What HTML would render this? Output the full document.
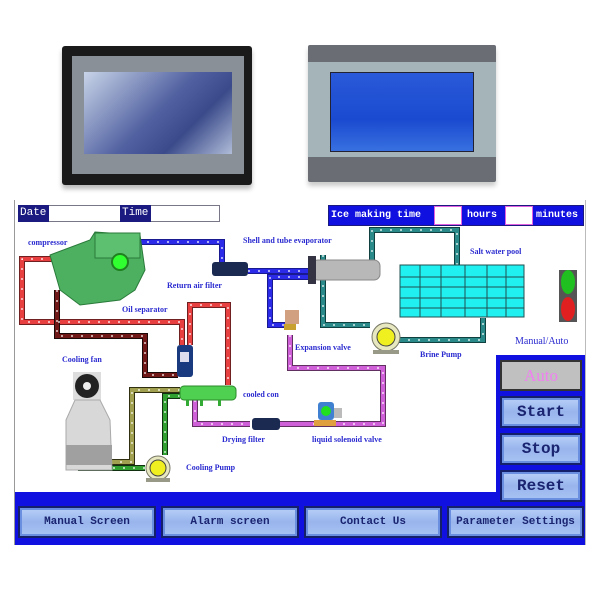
<!DOCTYPE html>
<html><head><meta charset="utf-8"><style>
body{margin:0;width:600px;height:600px;background:#fff;position:relative;overflow:hidden;font-family:"Liberation Mono",monospace}
.a{position:absolute}
.lbl{position:absolute;font-family:"Liberation Serif",serif;font-weight:bold;font-size:8px;color:#2a2ad0;white-space:nowrap}
.btn{position:absolute;background:linear-gradient(180deg,#b8d0f8,#98b4ec 50%,#a8c4f4);border:2px solid #14206a;box-shadow:inset 0 0 0 2px #6a8ee0;font-family:"Liberation Mono",monospace;font-weight:bold;color:#1a2470;text-align:center;box-sizing:border-box}
</style></head><body>
<!-- top photos -->
<div class="a" style="left:62px;top:46px;width:190px;height:139px;background:#1a1a1a;border-radius:3px;box-shadow:0 4px 5px #bbb"></div>
<div class="a" style="left:72px;top:56px;width:172px;height:118px;background:#8a9098"></div>
<div class="a" style="left:84px;top:72px;width:148px;height:82px;background:linear-gradient(135deg,#c8d4e8,#5060a0 50%,#3a4a8a 70%,#b0bcd8)"></div>
<div class="a" style="left:308px;top:45px;width:188px;height:137px;background:#6a6e74;border-radius:2px;box-shadow:0 4px 5px #ccc"></div>
<div class="a" style="left:308px;top:62px;width:188px;height:95px;background:#a4b4b8"></div>
<div class="a" style="left:330px;top:72px;width:142px;height:78px;background:linear-gradient(180deg,#2a5ad8,#1a4ad0 60%,#3870e0);border:1px solid #223"></div>
<!-- frame -->
<div class="a" style="left:14px;top:200px;width:1px;height:345px;background:#999"></div>
<div class="a" style="left:585px;top:200px;width:1px;height:345px;background:#bbb"></div>
<!-- header -->
<div class="a" style="left:18px;top:205px;width:202px;height:17px;border:1px solid #778;box-sizing:border-box;background:#fff"></div>
<div class="a" style="left:18px;top:205px;width:31px;height:17px;background:#1a1a80;color:#fff;font-size:11px;line-height:17px;padding-left:2px;box-sizing:border-box">Date</div>
<div class="a" style="left:120px;top:205px;width:31px;height:17px;background:#1a1a80;color:#fff;font-size:11px;line-height:17px;padding-left:2px;box-sizing:border-box">Time</div>
<div class="a" style="left:328px;top:205px;width:256px;height:21px;background:#1010e0;border:1px solid #1a1a80;box-sizing:border-box"></div>
<div class="a" style="left:331px;top:205px;color:#fff;font-weight:bold;font-size:10px;line-height:21px">Ice making time</div>
<div class="a" style="left:434px;top:206px;width:28px;height:19px;background:#fff;border:1px solid #e060e0;box-sizing:border-box"></div>
<div class="a" style="left:467px;top:205px;color:#fff;font-weight:bold;font-size:10px;line-height:21px">hours</div>
<div class="a" style="left:505px;top:206px;width:28px;height:19px;background:#fff;border:1px solid #e060e0;box-sizing:border-box"></div>
<div class="a" style="left:536px;top:205px;color:#fff;font-weight:bold;font-size:10px;line-height:21px">minutes</div>

<svg class="a" style="left:0;top:0" width="600" height="600">
<g fill="none" stroke-linejoin="miter">
<g stroke="#1a1a90" stroke-width="6"><polyline points="137,242 222,242 222,262"/><polyline points="248,271 310,271"/><polyline points="310,277 270,277 270,325 285,325"/></g>
<g stroke="#2a2ae8" stroke-width="4"><polyline points="137,242 222,242 222,262"/><polyline points="248,271 310,271"/><polyline points="310,277 270,277 270,325 285,325"/></g>
<g stroke="#702020" stroke-width="6"><polyline points="63,259 22,259 22,322 182,322 182,345"/><polyline points="190,345 190,305 228,305 228,385"/></g>
<g stroke="#e84040" stroke-width="4"><polyline points="63,259 22,259 22,322 182,322 182,345"/><polyline points="190,345 190,305 228,305 228,385"/></g>
<polyline stroke="#1a0a0a" stroke-width="6" points="57,290 57,336 145,336 145,375 178,375"/>
<polyline stroke="#701818" stroke-width="4" points="57,290 57,336 145,336 145,375 178,375"/>
<g stroke="#104040" stroke-width="6"><polyline points="323,255 323,325 370,325"/><polyline points="398,340 483,340 483,318"/><polyline points="372,262 372,230 457,230 457,265"/></g>
<g stroke="#2a8a8a" stroke-width="4"><polyline points="323,255 323,325 370,325"/><polyline points="398,340 483,340 483,318"/><polyline points="372,262 372,230 457,230 457,265"/></g>
<g stroke="#603060" stroke-width="6"><polyline points="290,335 290,368 383,368 383,424 313,424"/><polyline points="195,400 195,424 250,424"/><polyline points="280,424 320,424"/></g>
<g stroke="#d060d8" stroke-width="4"><polyline points="290,335 290,368 383,368 383,424 313,424"/><polyline points="195,400 195,424 250,424"/><polyline points="280,424 320,424"/></g>
<polyline stroke="#303010" stroke-width="6" points="110,462 132,462 132,390 180,390"/>
<polyline stroke="#a0a050" stroke-width="4" points="110,462 132,462 132,390 180,390"/>
<polyline stroke="#103010" stroke-width="6" points="180,396 165,396 165,455"/>
<polyline stroke="#30a030" stroke-width="4" points="180,396 165,396 165,455"/>
<polyline stroke="#103010" stroke-width="6" points="145,468 78,468"/>
<polyline stroke="#30a030" stroke-width="4" points="145,468 78,468"/>
</g>
<g stroke="#fff" stroke-width="1.2" stroke-dasharray="2 8" fill="none">
<polyline points="137,242 222,242 222,262"/><polyline points="248,271 310,271"/><polyline points="310,277 270,277 270,325 285,325"/>
<polyline points="63,259 22,259 22,322 182,322 182,345"/><polyline points="190,345 190,305 228,305 228,385"/>
<polyline points="57,290 57,336 145,336 145,375 178,375"/>
<polyline points="323,255 323,325 370,325"/><polyline points="398,340 483,340 483,318"/><polyline points="372,262 372,230 457,230 457,265"/>
<polyline points="290,335 290,368 383,368 383,424 313,424"/><polyline points="195,400 195,424 250,424"/>
<polyline points="110,462 132,462 132,390 180,390"/><polyline points="180,396 165,396 165,455"/><polyline points="145,468 78,468"/>
</g>
<path d="M50,255 L90,240 L95,232 L140,235 L145,270 L135,290 L120,300 L80,305 L60,290 Z" fill="#4cb060" stroke="#2a7a3a"/>
<rect x="95" y="233" width="45" height="25" fill="#5cc070" stroke="#2a7a3a"/>
<circle cx="120" cy="262" r="8" fill="#30ff30" stroke="#208020" stroke-width="2"/>
<rect x="212" y="262" width="36" height="14" rx="3" fill="#1a2a50"/>
<rect x="177" y="345" width="16" height="32" rx="3" fill="#1a3a80"/>
<rect x="180" y="352" width="9" height="10" fill="#dde"/>
<rect x="312" y="260" width="68" height="20" rx="6" fill="#b8b8b8" stroke="#888"/>
<rect x="308" y="256" width="8" height="28" fill="#334"/>
<rect x="400" y="265" width="124" height="52" fill="#20f0f0" stroke="#205050"/>
<g stroke="#205050" stroke-width="1"><line x1="420" y1="265" x2="420" y2="317"/><line x1="441" y1="265" x2="441" y2="317"/><line x1="465" y1="265" x2="465" y2="317"/><line x1="487" y1="265" x2="487" y2="317"/><line x1="506" y1="265" x2="506" y2="317"/>
<line x1="400" y1="277" x2="524" y2="277"/><line x1="400" y1="287" x2="524" y2="287"/><line x1="400" y1="298" x2="524" y2="298"/><line x1="400" y1="308" x2="524" y2="308"/></g>
<circle cx="386" cy="337" r="14" fill="#e8e8c0" stroke="#776"/><circle cx="386" cy="337" r="9" fill="#f0f020" stroke="#444"/>
<rect x="373" y="350" width="26" height="4" fill="#998"/>
<rect x="285" y="310" width="14" height="14" fill="#d0a080"/><rect x="284" y="324" width="12" height="6" fill="#c8a030"/>
<rect x="559" y="270" width="18" height="52" fill="#555"/>
<ellipse cx="568" cy="282" rx="7" ry="12" fill="#20c020"/><ellipse cx="568" cy="309" rx="7" ry="12" fill="#e02020"/>
<rect x="180" y="386" width="56" height="14" rx="4" fill="#50d050" stroke="#2a8a2a"/>
<rect x="186" y="400" width="3" height="6" fill="#3a3"/><rect x="200" y="400" width="3" height="6" fill="#3a3"/><rect x="218" y="400" width="3" height="6" fill="#3a3"/>
<rect x="252" y="418" width="28" height="12" rx="3" fill="#1a2a50"/>
<rect x="318" y="402" width="16" height="18" rx="3" fill="#4080d0"/><circle cx="326" cy="411" r="5" fill="#20e020"/>
<rect x="334" y="408" width="8" height="10" fill="#bbb"/><rect x="314" y="420" width="22" height="6" fill="#e0a040"/>
<rect x="73" y="372" width="28" height="28" fill="#ddd"/><circle cx="87" cy="386" r="12" fill="#222"/><circle cx="87" cy="386" r="4" fill="#eee"/>
<path d="M75,400 L100,400 L110,420 L112,470 L66,470 L66,420 Z" fill="#d8d8d8" stroke="#aaa"/>
<rect x="66" y="445" width="46" height="20" fill="#a0a0a0"/>
<circle cx="158" cy="468" r="12" fill="#e8e8c0" stroke="#776"/><circle cx="158" cy="468" r="8" fill="#f0f020" stroke="#444"/>
<rect x="146" y="478" width="24" height="4" fill="#998"/>
</svg>

<div class="lbl" style="left:28px;top:238px">compressor</div>
<div class="lbl" style="left:167px;top:281px">Return air filter</div>
<div class="lbl" style="left:122px;top:305px">Oil separator</div>
<div class="lbl" style="left:243px;top:236px">Shell and tube evaporator</div>
<div class="lbl" style="left:470px;top:247px">Salt water pool</div>
<div class="lbl" style="left:295px;top:343px">Expansion valve</div>
<div class="lbl" style="left:420px;top:350px">Brine Pump</div>
<div class="lbl" style="left:515px;top:336px;font-size:10px;font-weight:normal">Manual/Auto</div>
<div class="lbl" style="left:62px;top:355px">Cooling fan</div>
<div class="lbl" style="left:243px;top:390px">cooled con</div>
<div class="lbl" style="left:222px;top:435px">Drying filter</div>
<div class="lbl" style="left:312px;top:435px">liquid solenoid valve</div>
<div class="lbl" style="left:186px;top:463px">Cooling Pump</div>

<div class="a" style="left:496px;top:355px;width:89px;height:140px;background:#1010e0"></div>
<div class="a" style="left:500px;top:360px;width:82px;height:31px;background:#c0c0c0;border:2px solid #333;box-sizing:border-box;color:#f080f0;font-family:'Liberation Serif',serif;font-size:17px;text-align:center;line-height:27px">Auto</div>
<div class="btn" style="left:500px;top:396px;width:82px;height:32px;font-size:16px;line-height:28px">Start</div>
<div class="btn" style="left:500px;top:433px;width:82px;height:32px;font-size:16px;line-height:28px">Stop</div>
<div class="a" style="left:15px;top:492px;width:570px;height:53px;background:#1010e0"></div>
<div class="btn" style="left:500px;top:470px;width:82px;height:32px;font-size:16px;line-height:28px">Reset</div>
<div class="btn" style="left:18px;top:506px;width:138px;height:32px;font-size:11px;line-height:28px">Manual Screen</div>
<div class="btn" style="left:161px;top:506px;width:138px;height:32px;font-size:11px;line-height:28px">Alarm screen</div>
<div class="btn" style="left:304px;top:506px;width:138px;height:32px;font-size:11px;line-height:28px">Contact Us</div>
<div class="btn" style="left:447px;top:506px;width:137px;height:32px;font-size:11px;line-height:28px">Parameter Settings</div>
</body></html>
